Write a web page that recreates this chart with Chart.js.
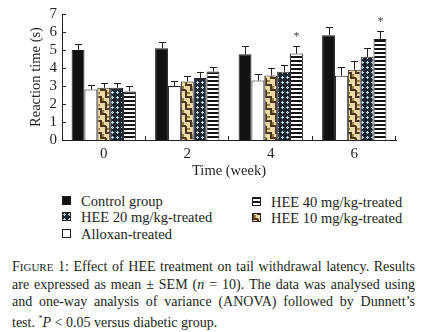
<!DOCTYPE html>
<html>
<head>
<meta charset="utf-8">
<script src="https://cdn.jsdelivr.net/npm/chart.js@4"></script>
<style>
  body { margin: 0; background: #fff; width: 433px; height: 332px; overflow: hidden; position: relative;
         font-family: "Liberation Serif", "DejaVu Serif", serif; color: #231f20; }
  #wrap { position: absolute; left: 0; top: 0; width: 433px; height: 180px; }
  .leg { position: absolute; font-size: 14.5px; line-height: 16px; white-space: nowrap; }
  .leg canvas { position: absolute; left: 0; top: 3px; }
  .leg span { position: absolute; left: 19px; top: 0; }
  #caption { position: absolute; left: 12px; top: 258px; width: 403px; font-size: 14px; line-height: 17px;
             text-align: justify; }
  .sc { font-size: 11px; }
</style>
</head>
<body>
<div id="wrap"><canvas id="chart" width="433" height="180"></canvas></div>

<div class="leg" style="left:62px;top:193px"><canvas id="sw0" width="9" height="9"></canvas><span>Control group</span></div>
<div class="leg" style="left:62px;top:209px"><canvas id="sw3" width="9" height="9"></canvas><span>HEE 20 mg/kg-treated</span></div>
<div class="leg" style="left:62px;top:226px"><canvas id="sw1" width="9" height="9"></canvas><span>Alloxan-treated</span></div>
<div class="leg" style="left:252px;top:194px"><canvas id="sw4" width="9" height="9"></canvas><span>HEE 40 mg/kg-treated</span></div>
<div class="leg" style="left:252px;top:210px"><canvas id="sw2" width="9" height="9"></canvas><span>HEE 10 mg/kg-treated</span></div>

<div id="caption">F<span class="sc">IGURE</span> 1: Effect of HEE treatment on tail withdrawal latency. Results
are expressed as mean ± SEM (<i>n</i> = 10). The data was analysed using and one-way analysis of variance (ANOVA) followed by Dunnett’s test. <sup style="font-size:8px">*</sup><i>P</i> &lt; 0.05 versus diabetic group.</div>

<script>
// values (seconds)
const weeks = ['0', '2', '4', '6'];
const yTicks = [0, 1, 2, 3, 4, 5, 6, 7];

const groupNames = ['Control group', 'Alloxan-treated', 'HEE 10 mg/kg-treated', 'HEE 20 mg/kg-treated', 'HEE 40 mg/kg-treated'];

const control    = [5.0, 5.1, 4.76, 5.82];
const controlErr = [0.32, 0.32, 0.44, 0.47];
const alloxan    = [2.8, 3.0, 3.3, 3.57];
const alloxanErr = [0.25, 0.28, 0.38, 0.49];
const hee10      = [2.9, 3.25, 3.59, 3.9];
const hee10Err   = [0.26, 0.3, 0.41, 0.49];
const hee20      = [2.9, 3.45, 3.79, 4.62];
const hee20Err   = [0.26, 0.33, 0.38, 0.47];
const hee40      = [2.7, 3.8, 4.8, 5.61];
const hee40Err   = [0.3, 0.25, 0.4, 0.46];
const hee40Sig   = [false, false, true, true];

const ink = '#231f20';

function makePattern(w, h, draw) {
  const c = document.createElement('canvas');
  c.width = w; c.height = h;
  const g = c.getContext('2d');
  draw(g);
  return document.createElement('canvas').getContext('2d').createPattern(c, 'repeat');
}

const stripes = makePattern(4, 4, g => {
  g.fillStyle = '#fff'; g.fillRect(0, 0, 4, 4);
  g.fillStyle = '#151515'; g.fillRect(0, 0, 4, 2);
});

const dots = makePattern(5, 5, g => {
  g.fillStyle = '#1c2633'; g.fillRect(0, 0, 5, 5);
  g.fillStyle = '#bcd9e2';
  g.fillRect(1, 2, 3, 1);
  g.fillRect(2, 1, 1, 3);
});

const weave = makePattern(10, 12, g => {
  g.fillStyle = '#ecd9a4'; g.fillRect(0, 0, 10, 12);
  g.fillStyle = '#4d361a';
  g.fillRect(0, 0, 2, 6);
  g.fillRect(0, 5, 6, 2);
  g.fillRect(5, 6, 2, 6);
  g.fillRect(5, 0, 5, 2);
  g.fillStyle = '#9c7a45';
  g.fillRect(2, 2, 2, 3);
  g.fillRect(7, 8, 3, 2);
});

const fills = ['#111', '#fff', weave, dots, stripes];
const seriesVals = [control, alloxan, hee10, hee20, hee40];
const seriesErr = [controlErr, alloxanErr, hee10Err, hee20Err, hee40Err];

// legend swatches
fills.forEach((f, i) => {
  const g = document.getElementById('sw' + i).getContext('2d');
  g.fillStyle = f; g.fillRect(0, 0, 9, 9);
  g.strokeStyle = ink; g.lineWidth = 1; g.strokeRect(0.5, 0.5, 8, 8);
});

const errorBars = {
  id: 'errorBars',
  afterDatasetsDraw(chart) {
    const ctx = chart.ctx;
    const y = chart.scales.y;
    ctx.save();
    ctx.strokeStyle = ink;
    ctx.lineWidth = 1;
    chart.data.datasets.forEach((ds, di) => {
      chart.getDatasetMeta(di).data.forEach((bar, i) => {
        const top = y.getPixelForValue(ds.data[i] + ds.err[i]);
        const x = Math.round(bar.x) + 0.5;
        ctx.beginPath();
        ctx.moveTo(x, bar.y);
        ctx.lineTo(x, Math.round(top) + 0.5);
        ctx.moveTo(x - 3.5, Math.round(top) + 0.5);
        ctx.lineTo(x + 3.5, Math.round(top) + 0.5);
        ctx.stroke();
        if (ds.sig && ds.sig[i]) {
          ctx.fillStyle = '#444';
          ctx.font = '12px "Liberation Serif", serif';
          ctx.textAlign = 'center';
          ctx.fillText('*', x, top - 6);
        }
      });
    });
    ctx.restore();
  }
};

const innerTicks = {
  id: 'innerTicks',
  afterDraw(chart) {
    const ctx = chart.ctx;
    const ys = chart.scales.y;
    const a = chart.chartArea;
    ctx.save();
    ctx.strokeStyle = ink;
    ctx.lineWidth = 1;
    ctx.beginPath();
    const n = weeks.length;
    for (let i = 1; i <= n; i++) {
      const x = Math.round(a.left + i * (a.right - a.left) / n) - 0.5;
      ctx.moveTo(x, a.bottom);
      ctx.lineTo(x, a.bottom - 4);
    }
    yTicks.forEach(v => {
      const y = Math.round(ys.getPixelForValue(v)) + 0.5;
      ctx.moveTo(a.left, y);
      ctx.lineTo(a.left + 4, y);
    });
    ctx.stroke();
    ctx.restore();
  }
};

new Chart(document.getElementById('chart'), {
  type: 'bar',
  data: {
    labels: weeks,
    datasets: seriesVals.map((vals, i) => ({
      label: groupNames[i],
      data: vals,
      err: seriesErr[i],
      sig: i === 4 ? hee40Sig : null,
      backgroundColor: fills[i],
      borderColor: ink,
      borderWidth: 1,
      categoryPercentage: 0.77,
      barPercentage: 1.0
    }))
  },
  options: {
    responsive: false,
    animation: false,
    layout: { padding: { top: 7, right: 37, left: 0, bottom: 0 } },
    plugins: { legend: { display: false }, tooltip: { enabled: false } },
    scales: {
      x: {
        grid: { display: false, drawTicks: false },
        border: { display: true, color: ink, width: 1 },
        ticks: { color: ink, font: { family: '"Liberation Serif", serif', size: 15 }, padding: 5 },
        title: { display: true, text: 'Time (week)', color: ink, font: { family: '"Liberation Serif", serif', size: 14.5 }, padding: { top: 0, bottom: 0 } },
        afterFit: s => { s.height = 40; }
      },
      y: {
        min: 0, max: 7,
        afterBuildTicks: s => { s.ticks = yTicks.map(v => ({ value: v })); },
        grid: { display: false, drawTicks: false },
        border: { display: true, color: ink, width: 1 },
        ticks: { autoSkip: false, color: ink, font: { family: '"Liberation Serif", serif', size: 15 }, padding: 5 },
        title: { display: true, text: 'Reaction time (s)', color: ink, font: { family: '"Liberation Serif", serif', size: 14.5 }, padding: { top: 27, bottom: 0 } },
        afterFit: s => { s.width = 62; }
      }
    }
  },
  plugins: [errorBars, innerTicks]
});
</script>
</body>
</html>
